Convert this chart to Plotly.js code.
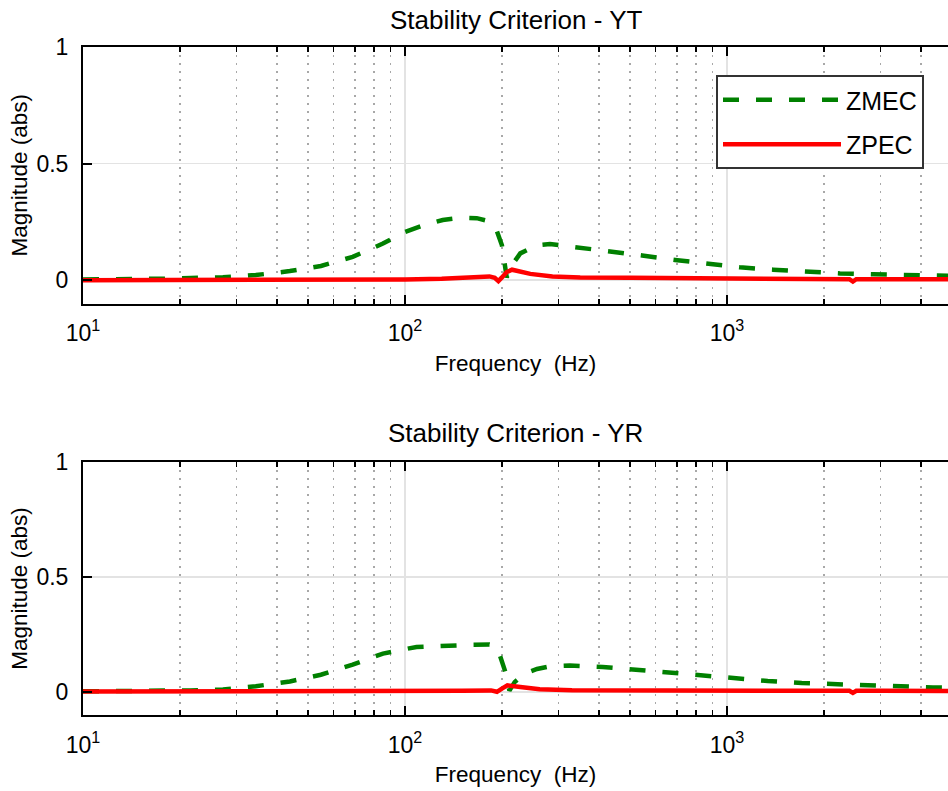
<!DOCTYPE html>
<html>
<head>
<meta charset="utf-8">
<script src="https://cdn.plot.ly/plotly-3.0.1.min.js"></script>
<style>
html, body { margin: 0; padding: 0; overflow: hidden; background: #fff; }
#chart { width: 948px; height: 791px; }
</style>
</head>
<body>
<div id="chart"></div>
<script>
// ---- Data ----
var seriesNames = ["ZMEC", "ZPEC"];
var subplotTitles = ["Stability Criterion - YT", "Stability Criterion - YR"];
var xTickVals = [10, 100, 1000];
var xTickText = ["10<sup>1</sup>", "10<sup>2</sup>", "10<sup>3</sup>"];
var yTickVals = [0, 0.5, 1];

// YT : ZMEC
var ytZmecFreq = [10, 10.6, 13.5, 17.1, 21.6, 27.2, 34.4, 43.9, 54.8, 68.8, 85.4, 100, 115, 131, 150, 167, 180, 188, 193, 200, 204, 207, 210, 215, 228, 257, 282, 342, 433, 545, 690, 874, 1096, 1390, 1770, 2244, 2840, 3620, 4580, 5000];
var ytZmecVal  = [0.003, 0.003, 0.004, 0.006, 0.009, 0.013, 0.022, 0.039, 0.061, 0.100, 0.157, 0.207, 0.237, 0.258, 0.268, 0.266, 0.255, 0.235, 0.21, 0.15, 0.07, 0.012, 0.03, 0.065, 0.115, 0.150, 0.155, 0.142, 0.124, 0.106, 0.087, 0.071, 0.055, 0.045, 0.035, 0.029, 0.025, 0.022, 0.020, 0.019];
// YT : ZPEC
var ytZpecFreq = [10, 30, 60, 100, 130, 160, 183, 190, 195, 200, 207, 215, 230, 245, 287, 350, 500, 700, 1000, 1500, 2000, 2400, 2460, 2520, 3000, 4000, 5000];
var ytZpecVal  = [0.000, 0.000, 0.001, 0.003, 0.006, 0.011, 0.016, 0.010, -0.004, 0.012, 0.035, 0.045, 0.038, 0.027, 0.016, 0.012, 0.010, 0.008, 0.006, 0.005, 0.005, 0.004, -0.006, 0.004, 0.004, 0.004, 0.004];

// YR : ZMEC
var yrZmecFreq = [10, 10.6, 13.5, 17.1, 21.6, 27.2, 34.4, 43.9, 54.8, 68.8, 85.4, 108.6, 138, 160, 183, 190, 196, 200, 205, 211, 215, 219, 235, 257, 282, 325, 411, 526, 665, 842, 1055, 1338, 1706, 2162, 2726, 3460, 4360, 5000];
var yrZmecVal  = [0.003, 0.003, 0.004, 0.005, 0.007, 0.011, 0.025, 0.046, 0.075, 0.119, 0.167, 0.196, 0.203, 0.205, 0.206, 0.200, 0.170, 0.138, 0.087, 0.006, 0.025, 0.043, 0.080, 0.100, 0.112, 0.115, 0.109, 0.096, 0.083, 0.071, 0.058, 0.048, 0.039, 0.033, 0.028, 0.023, 0.020, 0.019];
// YR : ZPEC
var yrZpecFreq = [10, 50, 100, 150, 185, 193, 200, 208, 228, 262, 330, 500, 1000, 2000, 2400, 2460, 2520, 3000, 5000];
var yrZpecVal  = [0.002, 0.002, 0.003, 0.005, 0.007, 0.001, 0.015, 0.029, 0.022, 0.012, 0.008, 0.007, 0.006, 0.005, 0.005, -0.004, 0.005, 0.005, 0.004];

// ---- Styles ----
var FONT = "Liberation Sans, Arial, Helvetica, sans-serif";
var green = "rgb(0,128,0)";
var red = "rgb(255,0,0)";

function zmec(x, y, xa, ya, show) {
  return { x: x, y: y, xaxis: xa, yaxis: ya, type: "scatter", mode: "lines",
    name: seriesNames[0], legendgroup: "g1", showlegend: show,
    line: { color: green, width: 4.5, dash: "16px,17px" }, hoverinfo: "skip" };
}
function zpec(x, y, xa, ya, show) {
  return { x: x, y: y, xaxis: xa, yaxis: ya, type: "scatter", mode: "lines",
    name: seriesNames[1], legendgroup: "g2", showlegend: show,
    line: { color: red, width: 4.5 }, hoverinfo: "skip" };
}

var data = [
  zmec(ytZmecFreq, ytZmecVal, "x", "y", true),
  zpec(ytZpecFreq, ytZpecVal, "x", "y", true),
  zmec(yrZmecFreq, yrZmecVal, "x2", "y2", false),
  zpec(yrZpecFreq, yrZpecVal, "x2", "y2", false)
];

var xRange = [1, 1 + 865 / 322];

function xAxis(anchor) {
  return {
    type: "log", range: xRange, anchor: anchor,
    tickmode: "array", tickvals: xTickVals, ticktext: xTickText,
    ticks: "inside", ticklen: 9, tickwidth: 2, tickcolor: "#000",
    showline: true, linecolor: "#000", linewidth: 2, mirror: "ticks",
    showgrid: true, gridcolor: "#e3e3e3", gridwidth: 1.5,
    zeroline: false,
    minor: { dtick: "D1", ticks: "inside", ticklen: 5, tickwidth: 1.5, tickcolor: "#000",
             showgrid: true, gridcolor: "#a8a8a8", griddash: "2px,6px", gridwidth: 1.5 },
    tickfont: { family: FONT, size: 23, color: "#000" },
    ticklabelstandoff: 8,
    title: { text: "Frequency  (Hz)", font: { family: FONT, size: 22.5, color: "#000" }, standoff: 10 }
  };
}
function yAxis(domain, anchor) {
  return {
    domain: domain, anchor: anchor, range: [-0.1, 1],
    tickmode: "array", tickvals: yTickVals,
    ticks: "inside", ticklen: 9, tickwidth: 2, tickcolor: "#000",
    showline: true, linecolor: "#000", linewidth: 2, mirror: false,
    showgrid: true, gridcolor: "#e3e3e3", gridwidth: 1.5,
    zeroline: false,
    tickfont: { family: FONT, size: 23, color: "#000" },
    ticklabelstandoff: 8,
    title: { text: "Magnitude (abs)", font: { family: FONT, size: 22.5, color: "#000" }, standoff: 3 }
  };
}

var layout = {
  width: 948, height: 791,
  margin: { l: 83, r: 0, t: 0, b: 0 },
  paper_bgcolor: "#fff", plot_bgcolor: "#fff",
  font: { family: FONT, color: "#000" },
  xaxis: xAxis("y"),
  yaxis: yAxis([1 - 303.5 / 791, 1 - 47 / 791], "x"),
  xaxis2: xAxis("y2"),
  yaxis2: yAxis([1 - 715 / 791, 1 - 462 / 791], "x2"),
  showlegend: true,
  legend: {
    x: (716 - 83) / 865, xref: "paper", xanchor: "left",
    y: 1 - 75 / 791, yanchor: "top",
    bgcolor: "#fff", bordercolor: "#333", borderwidth: 2,
    font: { family: FONT, size: 25, color: "#000" },
    itemwidth: 118, traceorder: "grouped", tracegroupgap: 9
  },
  annotations: [
    { text: subplotTitles[0], xref: "x domain", yref: "paper", x: 0.5, y: 1 - 20 / 791,
      xanchor: "center", yanchor: "middle", showarrow: false,
      font: { family: FONT, size: 26, color: "#000" } },
    { text: subplotTitles[1], xref: "x2 domain", yref: "paper", x: 0.5, y: 1 - 433 / 791,
      xanchor: "center", yanchor: "middle", showarrow: false,
      font: { family: FONT, size: 26, color: "#000" } }
  ]
};

Plotly.newPlot("chart", data, layout, { displayModeBar: false, staticPlot: true });
</script>
</body>
</html>
